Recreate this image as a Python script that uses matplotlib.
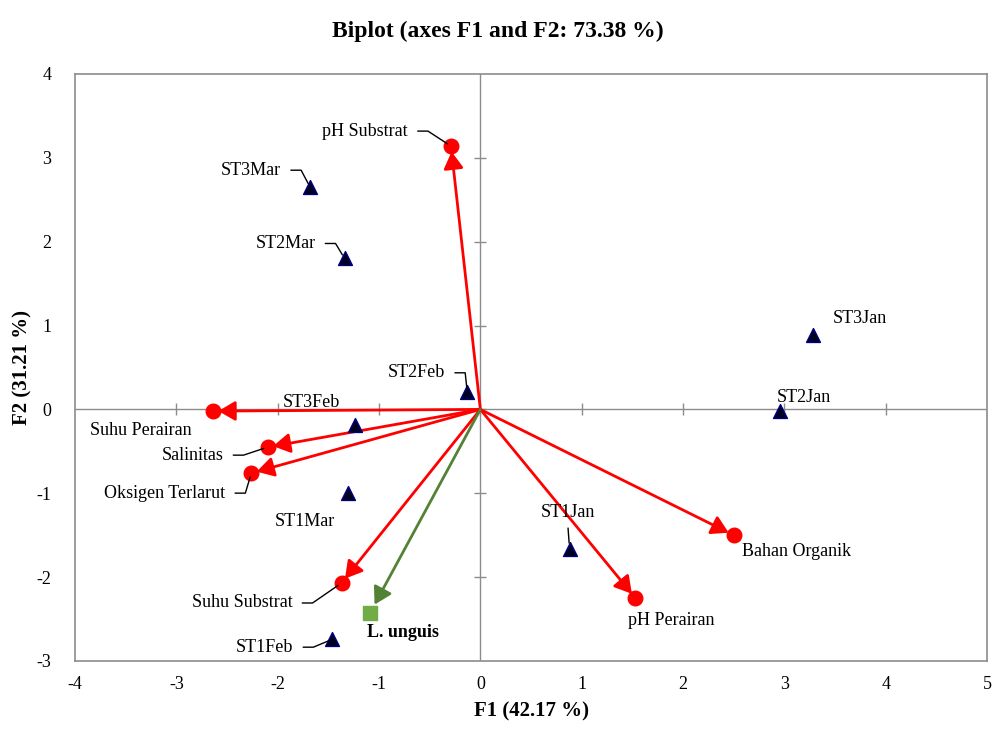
import math

import matplotlib
matplotlib.use("Agg")
import matplotlib.pyplot as plt
import numpy as np

plt.rcParams['font.family'] = ['Liberation Serif', 'DejaVu Serif']
plt.rcParams['axes.unicode_minus'] = False

# variabel lingkungan (loading)
var_names = ['pH Substrat', 'Suhu Perairan', 'Salinitas', 'Oksigen Terlarut',
             'Suhu Substrat', 'Bahan Organik', 'pH Perairan']
var_f1 = [-0.29, -2.64, -2.10, -2.26, -1.37, 2.50, 1.53]
var_f2 = [3.14, -0.02, -0.45, -0.76, -2.07, -1.50, -2.25]

# spesies
sp_name = 'L. unguis'
sp_f1 = -1.09
sp_f2 = -2.43

# stasiun pengamatan
obs_names = ['ST3Mar', 'ST2Mar', 'ST2Feb', 'ST3Feb', 'ST1Mar', 'ST1Feb',
             'ST1Jan', 'ST3Jan', 'ST2Jan']
obs_f1 = [-1.68, -1.34, -0.13, -1.24, -1.31, -1.46, 0.88, 3.28, 2.96]
obs_f2 = [2.65, 1.80, 0.21, -0.19, -1.00, -2.74, -1.66, 0.89, -0.02]

# posisi label (piksel) : dx, dy, ha, pakai garis penunjuk
label_pos = {
    'pH Substrat': (-43, 15, 'right', True),
    'Suhu Perairan': (-72, -19, 'center', False),
    'Salinitas': (-44, -8, 'right', True),
    'Oksigen Terlarut': (-26, -20, 'right', True),
    'Suhu Substrat': (-49, -20, 'right', True),
    'Bahan Organik': (63, -16, 'center', False),
    'pH Perairan': (36, -22, 'center', False),
    'ST3Mar': (-29, 17, 'right', True),
    'ST2Mar': (-29, 15, 'right', True),
    'ST2Feb': (-22, 19, 'right', True),
    'ST3Feb': (-43, 23, 'center', False),
    'ST1Mar': (-43, -28, 'center', False),
    'ST1Feb': (-39, -8, 'right', True),
    'ST1Jan': (-2, 36, 'center', 'down'),
    'ST3Jan': (47, 16, 'center', False),
    'ST2Jan': (24, 14, 'center', False),
    'L. unguis': (33, -19, 'center', False),
}

FS = 13


def put_label(ax, name, x, y, **kw):
    dx, dy, ha, leader = label_pos[name]
    props = None
    if leader == 'down':
        props = dict(arrowstyle='-', color='black', lw=1, relpos=(0.5, 0),
                     shrinkA=3, shrinkB=4)
    elif leader:
        # horizontal dulu, lalu miring ke titik
        cx, cy = dx + 20, dy
        ang = math.degrees(math.atan2(cy, cx))
        props = dict(arrowstyle='-', color='black', lw=1, relpos=(1, 0.5),
                     connectionstyle=f'angle,angleA=0,angleB={ang:.1f},rad=0',
                     shrinkA=5, shrinkB=3)
    ax.annotate(name, xy=(x, y), xytext=(dx, dy), textcoords='offset pixels',
                ha=ha, va='center', fontsize=FS, arrowprops=props, zorder=6, **kw)


fig = plt.figure(figsize=(9.95, 7.29), dpi=100)
ax = fig.add_axes([0.0754, 0.0933, 0.9166, 0.8052])

ax.set_xlim(-4, 5)
ax.set_ylim(-3, 4)
xt = np.arange(-4, 6)
yt = np.arange(-3, 5)
ax.set_xticks(xt)
ax.set_yticks(yt)
ax.tick_params(length=0, labelsize=FS)
ax.tick_params(axis='x', pad=11)
ax.tick_params(axis='y', pad=17)
for s in ax.spines.values():
    s.set_color('#8c8c8c')
    s.set_linewidth(1.2)

# sumbu nol dan tanda tick di atasnya
ax.axhline(0, color='#8c8c8c', lw=1, zorder=1)
ax.axvline(0, color='#8c8c8c', lw=1, zorder=1)
ax.plot(xt[1:-1], np.zeros(len(xt) - 2), ls='none', marker='|', ms=8,
        mew=1, color='#8c8c8c', zorder=1)
ax.plot(np.zeros(len(yt) - 2), yt[1:-1], ls='none', marker='_', ms=8,
        mew=1, color='#8c8c8c', zorder=1)

# panah variabel
for x, y in zip(var_f1, var_f2):
    ax.annotate('', xy=(x, y), xytext=(0, 0),
                arrowprops=dict(arrowstyle='-|>,head_length=0.6,head_width=0.35',
                                color='red', lw=2, mutation_scale=17,
                                shrinkA=0, shrinkB=4), zorder=3)
ax.scatter(var_f1, var_f2, s=110, color='red', zorder=4)

# panah spesies
ax.annotate('', xy=(sp_f1, sp_f2), xytext=(0, 0),
            arrowprops=dict(arrowstyle='-|>,head_length=0.6,head_width=0.35',
                            color='#548235', lw=2, mutation_scale=17,
                            shrinkA=0, shrinkB=7), zorder=3)
ax.scatter([sp_f1], [sp_f2], s=90, marker='s', color='#70ad47', zorder=4)

ax.scatter(obs_f1, obs_f2, s=100, marker='^', facecolor='#000022',
           edgecolor='#000080', linewidth=1, zorder=4)

for n, x, y in zip(var_names, var_f1, var_f2):
    put_label(ax, n, x, y)
for n, x, y in zip(obs_names, obs_f1, obs_f2):
    put_label(ax, n, x, y)
put_label(ax, sp_name, sp_f1, sp_f2, fontweight='bold')

fig.suptitle('Biplot (axes F1 and F2: 73.38 %)', y=0.972, fontsize=17,
             fontweight='bold')
ax.set_xlabel('F1 (42.17 %)', fontsize=15, fontweight='bold', labelpad=6)
ax.set_ylabel('F2 (31.21 %)', fontsize=15, fontweight='bold')
ax.yaxis.set_label_coords(-0.047, 0.5)

fig.savefig('out.png', dpi=100)
